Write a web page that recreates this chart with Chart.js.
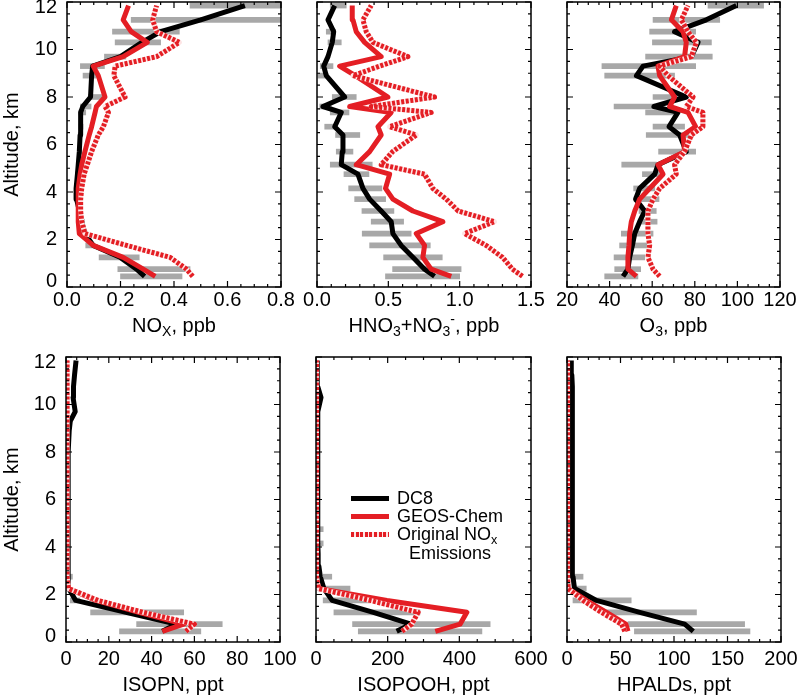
<!DOCTYPE html>
<html>
<head>
<meta charset="utf-8">
<script src="https://cdn.jsdelivr.net/npm/chart.js@4.4.1/dist/chart.umd.min.js"></script>
<style>
  body { margin: 0; width: 800px; height: 696px; background: #fff; position: relative; overflow: hidden;
         font-family: 'Liberation Sans', Arial, Helvetica, sans-serif; color: #000; }
  canvas { position: absolute; }
  .xtitle { position: absolute; font-size: 20px; line-height: 24px; white-space: nowrap; transform: translateX(-50%); }
  .xtitle sub, .leg sub { font-size: 0.7em; vertical-align: -0.3em; line-height: 0; }
  .xtitle sup { font-size: 0.7em; vertical-align: 0.55em; line-height: 0; }
  .swatch { position: absolute; width: 38px; height: 5px; }
  .leg { position: absolute; font-size: 18px; line-height: 20px; white-space: nowrap; }
</style>
</head>
<body>

<script>
// Altitudes (km) des niveaux de mesure / modèle
const altitude = [0.45, 0.75, 1.25, 1.75, 2.25, 2.75, 3.2, 3.7, 4.15, 4.75, 5.15, 5.7,
                  6.4, 6.75, 7.35, 7.6, 8.0, 8.9, 9.3, 9.7, 10.3, 10.75, 11.25, 11.85];

// NOx, ppb
const noxDC8  = [0.29, 0.26, 0.198, 0.098, 0.067, 0.055, 0.046, 0.036, 0.034, 0.039, 0.042, 0.046, 0.049, 0.051, 0.051, 0.059, 0.088, 0.092, 0.096, 0.20, 0.28, 0.35, 0.50, 0.665];
const noxLow  = [0.20, 0.19, 0.12, 0.07, 0.055, 0.045, 0.04, 0.03, 0.03, 0.033, 0.035, 0.04, 0.042, 0.045, 0.045, 0.05, 0.08, 0.06, 0.05, 0.14, 0.18, 0.17, 0.24, 0.46];
const noxHigh = [0.43, 0.46, 0.27, 0.10, 0.075, 0.065, 0.055, 0.045, 0.04, 0.045, 0.05, 0.055, 0.058, 0.06, 0.07, 0.09, 0.13, 0.11, 0.14, 0.22, 0.35, 0.42, 0.90, 0.90];
const noxGC   = [0.33, 0.285, 0.21, 0.098, 0.046, 0.042, 0.042, 0.042, 0.042, 0.049, 0.055, 0.067, 0.083, 0.092, 0.105, 0.11, 0.142, 0.117, 0.098, 0.21, 0.30, 0.24, 0.21, 0.23];
const noxOrig = [0.47, 0.447, 0.385, 0.223, 0.067, 0.055, 0.051, 0.051, 0.055, 0.064, 0.076, 0.092, 0.117, 0.136, 0.155, 0.142, 0.217, 0.175, 0.18, 0.335, 0.42, 0.335, 0.32, 0.335];

// HNO3 + NO3-, ppb
const hno3DC8  = [0.824, 0.754, 0.672, 0.59, 0.532, 0.52, 0.45, 0.369, 0.322, 0.287, 0.17, 0.177, 0.182, 0.124, 0.17, 0.042, 0.194, 0.065, 0.047, 0.077, 0.107, 0.117, 0.077, 0.124];
const hno3Low  = [0.48, 0.53, 0.467, 0.369, 0.317, 0.38, 0.315, 0.264, 0.222, 0.189, 0.093, 0.135, 0.13, 0.054, 0.093, 0.019, 0.107, 0.007, 0.023, null, 0.077, 0.065, null, 0.093];
const hno3High = [1.0, 1.01, 0.878, 0.794, 0.66, 0.607, 0.539, 0.481, 0.455, 0.364, 0.387, 0.252, 0.30, 0.14, 0.224, 0.10, 0.275, 0.077, 0.112, null, 0.17, 0.13, null, 0.205];
const hno3GC   = [0.941, 0.80, 0.742, 0.754, 0.696, 0.882, 0.672, 0.532, 0.48, 0.509, 0.275, 0.369, 0.45, 0.427, 0.52, 0.229, 0.497, 0.268, 0.159, 0.45, 0.334, 0.275, 0.252, 0.247];
const hno3Orig = [1.44, 1.37, 1.30, 1.186, 1.034, 1.244, 0.99, 0.906, 0.812, 0.754, 0.45, 0.53, 0.696, 0.509, 0.80, 0.38, 0.824, 0.252, 0.44, 0.637, 0.392, 0.345, 0.322, 0.38];

// O3, ppb
const o3DC8  = [46.3, 48.6, 49.4, 50.7, 51.8, 54.1, 56.5, 52.2, 54.1, 61.2, 62.7, 76, 72.9, 67.9, 72.1, 60.8, 76, 52.6, 55.7, 78.4, 81.5, 70.5, 85.4, 99.5];
const o3Low  = [37.7, 42.4, 42.1, 44.7, 45.5, 54.1, 53.8, 51.5, 51.3, 55.4, 45.7, 63, 57.2, 60.4, 56.9, 42.1, 60.4, 37.7, 36.4, 56.9, 60.1, 58.8, 60.4, 86.2];
const o3High = [53.3, 54.6, 56.5, 58.8, 60.4, 62.3, 61.9, 63.2, 61.2, 63.5, 61.9, 80.4, 79.2, 75.2, 71.3, 61.2, 76, 70.5, 80.4, 88.2, 87.8, 80.4, 91.7, 112.3];
const o3GC   = [52.6, 48.6, 48.6, 49.1, 49.4, 50.2, 51.8, 54.1, 58.8, 65.1, 62.7, 75.2, 74.5, 80.4, 76.8, 68.2, 70.5, 63.5, 62.7, 75.2, 76, 74.5, 69, 71.3];
const o3Orig = [63.5, 60.4, 58, 58.8, 58, 58, 58, 60.4, 63.5, 71.3, 70.5, 75.2, 78.4, 83.8, 83.8, 76, 79.2, 67.4, 63.5, 78.4, 80.7, 76.8, 73.7, 76.8];

// ISOPN, ppt
const isopnDC8  = [45, 51.5, 28, 4.5, 1.3, 1.0, 1.0, 1.0, 1.0, 1.0, 1.0, 1.0, 1.0, 1.0, 1.0, 1.0, 1.2, 1.5, 2.0, 4.3, 3.3, 3.5, 4.0, 4.7];
const isopnLow  = [25, 33, 11.5, 2, null, 0.5, null, null, null, null, null, null, null, null, null, null, null, null, null, null, null, null, null, null];
const isopnHigh = [63, 73, 55, 6.5, null, 3, null, null, null, null, null, null, null, null, null, null, null, null, null, null, null, null, null, null];
const isopnGC   = [45, 55, 34, 14, 1.0, 0.3, 0.3, 0.3, 0.3, 0.3, 0.3, 0.3, 0.3, 0.3, 0.3, 0.3, 0.3, 0.3, 0.3, 0.3, 0.3, 0.3, 0.3, 0.3];
const isopnOrig = [56, 60, 36, 15, 1.2, 0.5, 0.5, 0.5, 0.5, 0.5, 0.5, 0.5, 0.5, 0.5, 0.5, 0.5, 0.5, 0.5, 0.5, 0.5, 0.5, 0.5, 0.5, 0.5];

// ISOPOOH, ppt
const isopoohDC8  = [225, 265, 160, 45, 22, 12, 8, 6, 5, 5, 5, 5, 5, 5, 5, 5, 5, 5, 5, 5, 14, 5, 4, 3];
const isopoohLow  = [118, 102, 50, 20, 20, 20, null, null, 11, 11, null, null, null, null, null, null, null, null, null, null, null, null, null, null];
const isopoohHigh = [463, 486, 290, 150, 95, 44, null, null, 20, 20, null, null, null, null, null, null, null, null, null, null, null, null, null, null];
const isopoohGC   = [333, 402, 421, 198, 7, 1, 1, 1, 1, 1, 1, 1, 1, 1, 1, 1, 1, 1, 1, 1, 1, 1, 1, 1];
const isopoohOrig = [240, 267, 285, 151, 7, 1.5, 1.5, 1.5, 1.5, 1.5, 1.5, 1.5, 1.5, 1.5, 1.5, 1.5, 1.5, 1.5, 1.5, 1.5, 1.5, 1.5, 1.5, 1.5];

// HPALDs, ppt
const hpaldsDC8  = [118, 110, 68, 27.5, 7, 5.6, 5, 5, 5, 5, 5, 5, 5, 5, 5, 5, 5, 5, 5, 5, 5, 5, 4.5, 4];
const hpaldsLow  = [63, 57, 37, 5.6, 5.6, 5.6, null, null, null, null, null, null, null, null, null, null, null, null, null, null, null, null, null, null];
const hpaldsHigh = [171, 166, 121, 60, 18, 15, null, null, null, null, null, null, null, null, null, null, null, null, null, null, null, null, null, null];
const hpaldsGC   = [57, 55, 37, 18, 1, 0.5, 0.5, 0.5, 0.5, 0.5, 0.5, 0.5, 0.5, 0.5, 0.5, 0.5, 0.5, 0.5, 0.5, 0.5, 0.5, 0.5, 0.5, 0.5];
const hpaldsOrig = [54, 51, 32, 15, 1, 0.5, 0.5, 0.5, 0.5, 0.5, 0.5, 0.5, 0.5, 0.5, 0.5, 0.5, 0.5, 0.5, 0.5, 0.5, 0.5, 0.5, 0.5, 0.5];

// Graduations des axes
const altTicks = [0, 2, 4, 6, 8, 10, 12];
const seriesNames = ['DC8', 'GEOS-Chem', 'Original NO<sub>x</sub>', 'Emissions'];

// Couleurs
const RED = 'rgb(228,30,36)';
const GREY = 'rgb(168,168,168)';
const PINK = 'rgb(253,228,228)';
const FONT = "'Liberation Sans', Arial, Helvetica, sans-serif";

// Cadre et graduations internes (style IDL)
const frameTicks = {
    id: 'frameTicks',
    afterDatasetsDraw(chart, args, opts) {
        const { ctx, chartArea: a, scales: { x, y } } = chart;
        ctx.save();
        ctx.strokeStyle = '#000';
        ctx.lineWidth = 1.5;
        ctx.strokeRect(a.left, a.top, a.right - a.left, a.bottom - a.top);
        ctx.lineWidth = 1.2;
        ctx.beginPath();
        const nx = Math.round((x.max - x.min) / opts.xMinor);
        for (let i = 0; i <= nx; i++) {
            const v = x.min + i * opts.xMinor;
            const r = v / opts.xMajor;
            const len = Math.abs(r - Math.round(r)) < 1e-6 ? 6 : 3;
            const px = x.getPixelForValue(v);
            ctx.moveTo(px, a.bottom); ctx.lineTo(px, a.bottom - len);
            ctx.moveTo(px, a.top); ctx.lineTo(px, a.top + len);
        }
        const ny = Math.round((y.max - y.min) / 0.5);
        for (let i = 0; i <= ny; i++) {
            const v = y.min + i * 0.5;
            const len = v % 2 === 0 ? 6 : 3;
            const py = y.getPixelForValue(v);
            ctx.moveTo(a.left, py); ctx.lineTo(a.left + len, py);
            ctx.moveTo(a.right, py); ctx.lineTo(a.right - len, py);
        }
        ctx.stroke();
        ctx.restore();
    }
};

const panels = [
    { box: [67, 2, 281, 287],   xMin: 0,  xMax: 0.8, xStep: 0.2, xMinor: 0.05, dec: 1, yAxis: true,  labPad: 1,
      low: noxLow, high: noxHigh, dc8: noxDC8, gc: noxGC, orig: noxOrig,
      title: 'NO<sub>X</sub>, ppb' },
    { box: [317, 2, 531, 287],  xMin: 0,  xMax: 1.5, xStep: 0.5, xMinor: 0.1,  dec: 1, yAxis: false, labPad: 1,
      low: hno3Low, high: hno3High, dc8: hno3DC8, gc: hno3GC, orig: hno3Orig,
      title: 'HNO<sub>3</sub>+NO<sub>3</sub><sup>-</sup>, ppb' },
    { box: [567, 2, 780, 287],  xMin: 20, xMax: 120, xStep: 20, xMinor: 5,    dec: 0, yAxis: false, labPad: 1,
      low: o3Low, high: o3High, dc8: o3DC8, gc: o3GC, orig: o3Orig,
      title: 'O<sub>3</sub>, ppb' },
    { box: [66, 357, 280, 642], xMin: 0,  xMax: 100, xStep: 20, xMinor: 5,    dec: 0, yAxis: true,  labPad: 5,
      low: isopnLow, high: isopnHigh, dc8: isopnDC8, gc: isopnGC, orig: isopnOrig,
      title: 'ISOPN, ppt' },
    { box: [316, 357, 531, 642], xMin: 0, xMax: 600, xStep: 200, xMinor: 50,  dec: 0, yAxis: false, labPad: 5,
      low: isopoohLow, high: isopoohHigh, dc8: isopoohDC8, gc: isopoohGC, orig: isopoohOrig,
      title: 'ISOPOOH, ppt' },
    { box: [567, 357, 781, 642], xMin: 0, xMax: 200, xStep: 50, xMinor: 10,   dec: 0, yAxis: false, labPad: 5,
      low: hpaldsLow, high: hpaldsHigh, dc8: hpaldsDC8, gc: hpaldsGC, orig: hpaldsOrig,
      title: 'HPALDs, ppt' }
];

function profile(values) {
    return altitude.map((a, i) => ({ x: values[i], y: a }));
}

function ranges(low, high) {
    return altitude.map((a, i) => ({ x: [low[i], high[i]], y: a }))
                   .filter(d => d.x[0] !== null && d.x[1] !== null);
}

function makePanel(p) {
    const [left, top, right, bottom] = p.box;
    const cLeft = p.yAxis ? 0 : left - 24;
    const cTop = Math.max(0, top - 12);
    const width = right + 24 - cLeft;
    const height = bottom + 34 - cTop;

    const canvas = document.createElement('canvas');
    canvas.width = width;
    canvas.height = height;
    canvas.style.left = cLeft + 'px';
    canvas.style.top = cTop + 'px';
    document.body.appendChild(canvas);

    const yScale = {
        type: 'linear', min: 0, max: 12, offset: false, display: p.yAxis,
        grid: { display: false, drawTicks: false }, border: { display: false },
        afterBuildTicks: s => { s.ticks = altTicks.map(v => ({ value: v })); },
        ticks: {
            padding: 10, color: '#000', font: { family: FONT, size: 20, lineHeight: 0.55 },
            // les étiquettes extrêmes sont décalées vers l'intérieur
            callback: v => v === 12 ? ['', '12'] : v === 0 ? ['0', ''] : String(v)
        },
        title: { display: true, text: 'Altitude, km', color: '#000',
                 font: { family: FONT, size: 20 }, padding: { top: 0, bottom: 0 } }
    };
    if (p.yAxis) {
        yScale.afterFit = s => { s.width = left - cLeft; s.paddingTop = 0; s.paddingBottom = 0; };
    }

    new Chart(canvas.getContext('2d'), {
        type: 'bar',
        data: {
            datasets: [
                { type: 'bar', data: ranges(p.low, p.high), backgroundColor: GREY,
                  borderWidth: 0, barThickness: 5, order: 5 },
                { type: 'line', data: profile(p.dc8), borderColor: '#000', borderWidth: 5,
                  pointRadius: 0, tension: 0, borderJoinStyle: 'round', order: 4 },
                { type: 'line', data: profile(p.gc), borderColor: RED, borderWidth: 5,
                  pointRadius: 0, tension: 0, borderJoinStyle: 'round', order: 3 },
                { type: 'line', data: profile(p.orig), borderColor: PINK, borderWidth: 5,
                  pointRadius: 0, tension: 0, borderJoinStyle: 'round', order: 2 },
                { type: 'line', data: profile(p.orig), borderColor: RED, borderWidth: 5,
                  borderDash: [3, 1.6], borderCapStyle: 'butt',
                  pointRadius: 0, tension: 0, borderJoinStyle: 'round', order: 1 }
            ]
        },
        options: {
            responsive: false,
            animation: false,
            indexAxis: 'y',
            layout: {
                autoPadding: false,
                padding: { left: p.yAxis ? 0 : left - cLeft, top: top - cTop, right: 24, bottom: 4 }
            },
            plugins: {
                legend: { display: false },
                tooltip: { enabled: false },
                frameTicks: { xMinor: p.xMinor, xMajor: p.xStep }
            },
            scales: {
                x: {
                    type: 'linear', min: p.xMin, max: p.xMax,
                    grid: { display: false, drawTicks: false }, border: { display: false },
                    ticks: {
                        stepSize: p.xStep, autoSkip: false, maxRotation: 0, padding: p.labPad,
                        color: '#000', font: { family: FONT, size: 20 },
                        callback: v => Number(v).toFixed(p.dec)
                    },
                    afterFit: s => { s.height = 30; s.paddingLeft = 0; s.paddingRight = 0; }
                },
                y: yScale
            }
        },
        plugins: [frameTicks]
    });

    // Titre de l'axe x (avec indices)
    const t = document.createElement('div');
    t.className = 'xtitle';
    t.innerHTML = p.title;
    t.style.left = ((left + right) / 2) + 'px';
    t.style.top = (bottom + (p.labPad > 2 ? 30 : 26)) + 'px';
    document.body.appendChild(t);
}

panels.forEach(makePanel);

// Légende dans le panneau ISOPOOH
const legendItems = [
    { y: 498, swatch: '#000' },
    { y: 516, swatch: RED },
    { y: 534, swatch: `repeating-linear-gradient(90deg, ${RED} 0 3px, ${PINK} 3px 4.6px)` }
];
legendItems.forEach((item, i) => {
    const s = document.createElement('div');
    s.className = 'swatch';
    s.style.left = '351px';
    s.style.top = (item.y - 2.5) + 'px';
    s.style.background = item.swatch;
    document.body.appendChild(s);
    const l = document.createElement('div');
    l.className = 'leg';
    l.style.left = '397px';
    l.style.top = (item.y - 10) + 'px';
    l.innerHTML = seriesNames[i];
    document.body.appendChild(l);
});
const extra = document.createElement('div');
extra.className = 'leg';
extra.style.left = '409px';
extra.style.top = '543px';
extra.innerHTML = seriesNames[3];
document.body.appendChild(extra);
</script>
</body>
</html>
